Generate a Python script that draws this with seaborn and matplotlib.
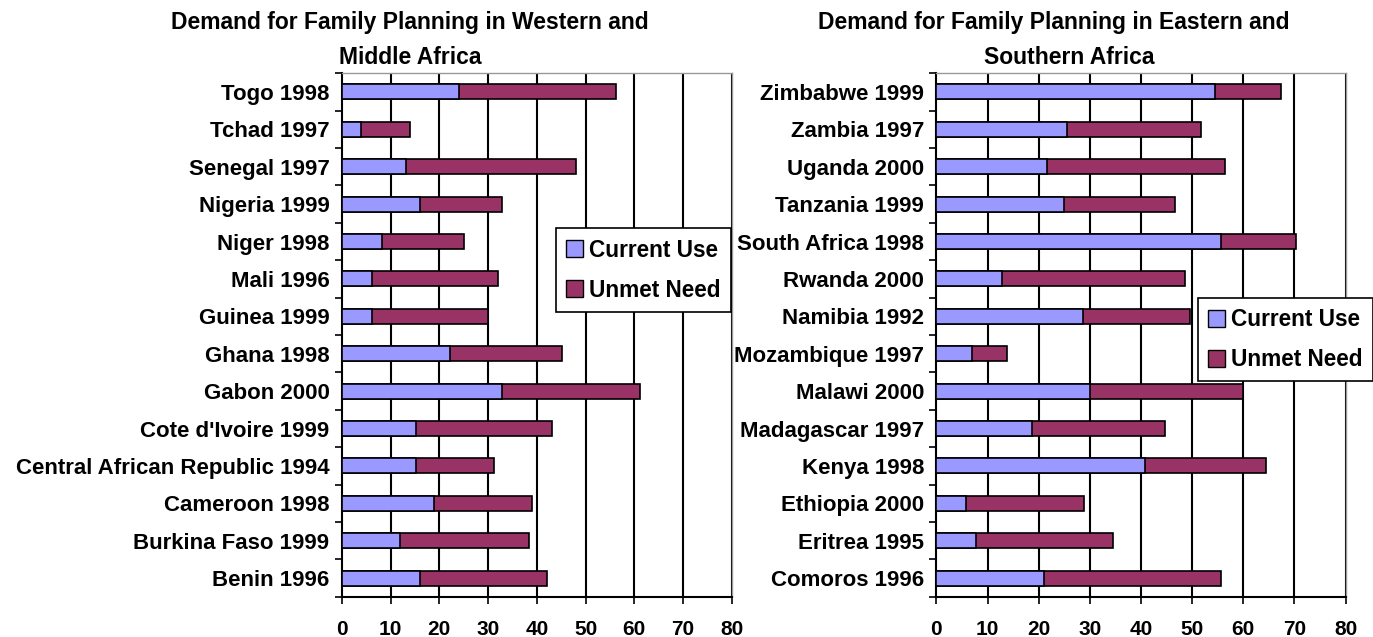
import numpy as np
import pandas as pd
import seaborn as sns
import matplotlib.pyplot as plt
from matplotlib.patches import Patch

# Western and Middle Africa (top to bottom as drawn)
west_labels = ["Togo 1998", "Tchad 1997", "Senegal 1997", "Nigeria 1999", "Niger 1998",
               "Mali 1996", "Guinea 1999", "Ghana 1998", "Gabon 2000", "Cote d'Ivoire 1999",
               "Central African Republic 1994", "Cameroon 1998", "Burkina Faso 1999", "Benin 1996"]
west_current = [24.1, 4.0, 13.2, 16.0, 8.2, 6.1, 6.1, 22.2, 32.9, 15.2, 15.2, 18.9, 11.9, 16.0]
west_unmet = [32.2, 10.0, 34.9, 16.9, 16.9, 26.0, 23.8, 23.0, 28.3, 27.9, 16.1, 20.1, 26.4, 26.0]

# Eastern and Southern Africa
east_labels = ["Zimbabwe 1999", "Zambia 1997", "Uganda 2000", "Tanzania 1999", "South Africa 1998",
               "Rwanda 2000", "Namibia 1992", "Mozambique 1997", "Malawi 2000", "Madagascar 1997",
               "Kenya 1998", "Ethiopia 2000", "Eritrea 1995", "Comoros 1996"]
east_current = [54.4, 25.6, 21.7, 24.9, 55.6, 12.9, 28.7, 6.9, 30.0, 18.6, 40.8, 5.8, 7.7, 21.0]
east_unmet = [12.9, 26.1, 34.7, 21.7, 14.8, 35.7, 20.9, 7.0, 30.0, 26.1, 23.7, 23.0, 26.9, 34.6]

series_names = ["Current Use", "Unmet Need"]
xticks = [0, 10, 20, 30, 40, 50, 60, 70, 80]

CUR_COLOR = "#9999FF"
UNMET_COLOR = "#993366"

sns.set_style("white")
plt.rcParams['font.family'] = ['Liberation Sans', 'DejaVu Sans']
plt.rcParams['font.weight'] = 'bold'
plt.rcParams['text.color'] = 'black'
plt.rcParams['xtick.color'] = 'black'
plt.rcParams['ytick.color'] = 'black'

fig = plt.figure(figsize=(13.73, 6.37), dpi=100)
ax1 = fig.add_axes([0.249, 0.063, 0.284, 0.822])
ax2 = fig.add_axes([0.682, 0.063, 0.298, 0.822])


def draw_panel(ax, labels, current, unmet, legend_center):
    df = pd.DataFrame({"label": labels, "current": current, "unmet": unmet})
    df["total"] = df["current"] + df["unmet"]
    sns.barplot(data=df, x="total", y="label", color=UNMET_COLOR, saturation=1,
                edgecolor="black", linewidth=1.2, width=0.4, orient="h", ax=ax, zorder=3)
    sns.barplot(data=df, x="current", y="label", color=CUR_COLOR, saturation=1,
                edgecolor="black", linewidth=1.2, width=0.4, orient="h", ax=ax, zorder=4)
    n = len(labels)
    ax.set_xlim(0, 80)
    ax.set_ylim(n - 0.5, -0.5)
    ax.set_xticks(xticks)
    ax.set_xlabel("")
    ax.set_ylabel("")
    for x in xticks[1:]:
        ax.axvline(x, color="black", lw=1.5, zorder=1)
    ax.set_yticks(np.arange(-0.5, n, 1.0), minor=True)
    ax.tick_params(axis="y", which="major", length=0, pad=9, labelsize=16)
    ax.tick_params(axis="y", which="minor", length=5, width=1.2, color="black", direction="out", left=True)
    ax.tick_params(axis="x", length=5, width=1.2, color="black", direction="out", bottom=True,
                   pad=12, labelsize=15)
    for lab in ax.get_xticklabels() + ax.get_yticklabels():
        lab.set_fontweight("bold")
    for side in ["left", "bottom"]:
        ax.spines[side].set_color("black")
        ax.spines[side].set_linewidth(1.5)
    for side in ["top", "right"]:
        ax.spines[side].set_color("#999999")
        ax.spines[side].set_linewidth(1)
    handles = [Patch(facecolor=CUR_COLOR, edgecolor="black", label=series_names[0]),
               Patch(facecolor=UNMET_COLOR, edgecolor="black", label=series_names[1])]
    leg = ax.legend(handles=handles, loc="center", bbox_to_anchor=legend_center,
                    frameon=True, fancybox=False, framealpha=1, edgecolor="black",
                    handlelength=0.75, handleheight=0.75, handletextpad=0.25,
                    borderpad=0.45, labelspacing=0.75, borderaxespad=0,
                    prop={"weight": "bold", "size": 16.3})
    leg.get_frame().set_linewidth(1.2)
    leg.set_zorder(10)


draw_panel(ax1, west_labels, west_current, west_unmet, (0.773, 0.624))
draw_panel(ax2, east_labels, east_current, east_unmet, (0.853, 0.491))

title_kw = dict(ha="center", va="center", fontsize=16.5, fontweight="bold")
fig.text(410 / 1373, 1 - 22 / 637, "Demand for Family Planning in Western and", **title_kw)
fig.text(410 / 1373, 1 - 58 / 637, "Middle Africa", **title_kw)
fig.text(1054 / 1373, 1 - 22 / 637, "Demand for Family Planning in Eastern and", **title_kw)
fig.text(1069 / 1373, 1 - 58 / 637, "Southern Africa", **title_kw)

fig.savefig("out.png", dpi=100)
